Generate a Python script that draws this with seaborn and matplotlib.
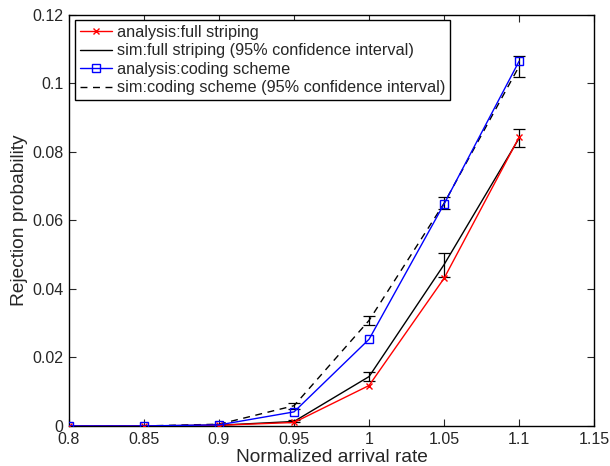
import matplotlib
matplotlib.use("Agg")
import matplotlib.pyplot as plt
import seaborn as sns
import numpy as np

rates = [0.8, 0.85, 0.9, 0.95, 1.0, 1.05, 1.1]
analysis_full = [0.0, 0.0, 0.0002, 0.0010, 0.0118, 0.0431, 0.0843]
sim_full = [0.0, 0.0, 0.0002, 0.0013, 0.0144, 0.0471, 0.0840]
sim_full_ci = [0.0, 0.0, 0.0001, 0.0003, 0.0012, 0.0035, 0.0026]
analysis_coding = [0.0, 0.0, 0.0003, 0.0041, 0.0253, 0.0648, 0.1065]
sim_coding = [0.0, 0.0, 0.0005, 0.0059, 0.0308, 0.0650, 0.1050]
sim_coding_ci = [0.0, 0.0, 0.0001, 0.0009, 0.0012, 0.0018, 0.0030]

labels = ["analysis:full striping",
          "sim:full striping (95% confidence interval)",
          "analysis:coding scheme",
          "sim:coding scheme (95% confidence interval)"]

sns.set_style("ticks")
plt.rcParams['font.family'] = ['Liberation Sans', 'DejaVu Sans']
plt.rcParams['xtick.direction'] = 'in'
plt.rcParams['ytick.direction'] = 'in'

fig = plt.figure(figsize=(6.1, 4.66), dpi=100)
ax = fig.add_axes([0.113, 0.086, 0.861, 0.882])

sns.lineplot(x=rates, y=sim_full, ax=ax, color='black', lw=1.0, label=labels[1], zorder=2)
sns.lineplot(x=rates, y=sim_coding, ax=ax, color='black', lw=1.0, linestyle=(0, (5, 4)), label=labels[3], zorder=2)
ax.errorbar(rates, sim_full, yerr=sim_full_ci, fmt='none', ecolor='black', elinewidth=0.9, capsize=4, capthick=0.9, zorder=3)
ax.errorbar(rates, sim_coding, yerr=sim_coding_ci, fmt='none', ecolor='black', elinewidth=0.9, capsize=4, capthick=0.9, zorder=3)
sns.lineplot(x=rates, y=analysis_full, ax=ax, color='red', lw=1.0, marker='x', markersize=5,
             markeredgecolor='red', markeredgewidth=1.0, label=labels[0], zorder=4)
sns.lineplot(x=rates, y=analysis_coding, ax=ax, color='blue', lw=1.0, marker='s', markersize=6,
             markerfacecolor='none', markeredgecolor='blue', markeredgewidth=1.0, label=labels[2], zorder=5)

ax.set_xlim(0.8, 1.15)
ax.set_ylim(0, 0.12)
ax.set_xticks([0.8, 0.85, 0.9, 0.95, 1.0, 1.05, 1.1, 1.15])
ax.set_xticklabels(["0.8", "0.85", "0.9", "0.95", "1", "1.05", "1.1", "1.15"])
ax.set_yticks([0, 0.02, 0.04, 0.06, 0.08, 0.1, 0.12])
ax.set_yticklabels(["0", "0.02", "0.04", "0.06", "0.08", "0.1", "0.12"])
ax.tick_params(axis='both', which='both', top=True, right=True, length=5, width=0.8, labelsize=11.5)
ax.tick_params(axis='x', pad=4.5)
ax.tick_params(axis='y', pad=4)
for s in ax.spines.values():
    s.set_visible(True)
    s.set_linewidth(1.0)
    s.set_color('black')
ax.set_xlabel("Normalized arrival rate", fontsize=13.8, labelpad=1)
ax.set_ylabel("Rejection probability", fontsize=13.8, labelpad=3)

handles, labs = ax.get_legend_handles_labels()
order = [labs.index(l) for l in labels]
leg = ax.legend([handles[i] for i in order], [labs[i] for i in order], loc='upper left',
                bbox_to_anchor=(0.0115, 0.988), fontsize=11.7, frameon=True, fancybox=False,
                edgecolor='black', framealpha=1, borderpad=0.3, labelspacing=0.22,
                handlelength=2.0, handletextpad=0.3, borderaxespad=0.0)
leg.get_frame().set_linewidth(1.0)

fig.savefig("out.png", dpi=100)
